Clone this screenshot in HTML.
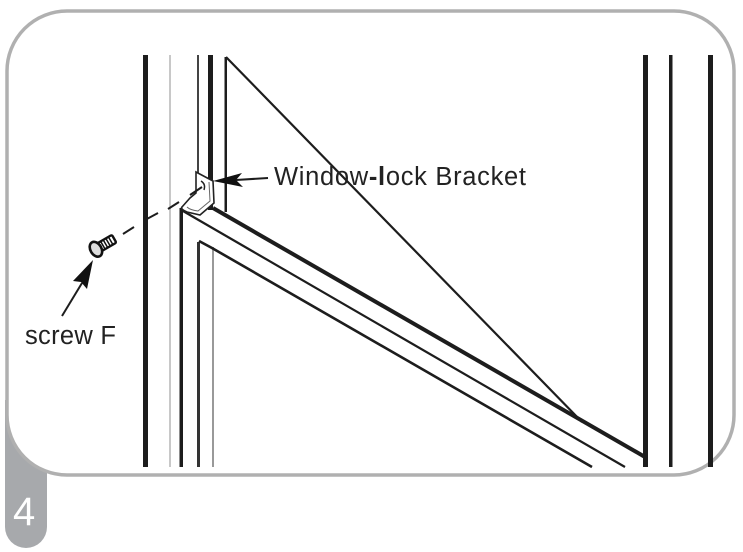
<!DOCTYPE html>
<html><head><meta charset="utf-8"><style>
html,body{margin:0;padding:0;background:#fff;width:743px;height:552px;overflow:hidden}
svg{display:block}
text{font-family:"Liberation Sans",sans-serif}
</style></head><body>
<svg width="743" height="552" viewBox="0 0 743 552" xmlns="http://www.w3.org/2000/svg">
<path d="M5 400H47V527A21 21 0 0 1 5 527Z" fill="#a7a9ac"/>
<rect x="7" y="11" width="727" height="464" rx="60" ry="60" fill="#fff" stroke="#b0b0b0" stroke-width="3.5"/>
<text x="13" y="525" font-size="40" fill="#fff">4</text>
<g fill="#1d1d1d">
<rect x="143" y="55" width="5" height="412"/>
<rect x="169" y="55" width="2" height="412" fill="#c8c8c8"/>
<rect x="197" y="55" width="2" height="118" fill="#444"/>
<rect x="208" y="55" width="5" height="155"/>
<rect x="224.500" y="57" width="2.500" height="155"/>
<rect x="179.500" y="208" width="3.500" height="259"/>
<rect x="197" y="242" width="3" height="225" fill="#333"/>
<rect x="212" y="247" width="2" height="220" fill="#999"/>
<rect x="643" y="55" width="5" height="412"/>
<rect x="669" y="55" width="3.500" height="412"/>
<rect x="708" y="55" width="5" height="412"/>
</g>
<g fill="none" stroke="#1d1d1d">
<path d="M226 57L582 422" stroke-width="2.200"/>
<path d="M213 208L645 457" stroke-width="4"/>
<path d="M183 211L625 467" stroke-width="2.200"/>
<path d="M199 241L212 248L592 467" stroke-width="2.600"/>
</g>
<path d="M196 172L213 181L214 203L200 215L187 212Q180 209 182 207L190 198L196 193Z" fill="#fff" stroke="#222" stroke-width="1.600"/>
<path d="M209 182L210 201L198 211Q190 210 187 207" fill="none" stroke="#666" stroke-width="1"/>
<path d="M201 181Q206 184 204 190" fill="none" stroke="#222" stroke-width="1.400"/>
<g stroke="#1d1d1d" stroke-width="2" fill="none">
<path d="M123 234L134 227M145 220L158 213M168 209L179 202M190 195L202 187"/>
<path d="M236 180L268 178"/>
<path d="M82 283L62 316"/>
</g>
<path d="M213 181L242 173L236 180L243 187Z" fill="#111"/>
<path d="M93 260L73 281L81 282L87 289Z" fill="#111"/>
<g transform="rotate(-30 95.500 249.500)">
<rect x="100" y="245" width="17" height="9" rx="1.500" fill="#fff" stroke="#111" stroke-width="2.400"/>
<path d="M104 245V254M107 245V254M110 245V254M113 245V254" stroke="#111" stroke-width="1.500"/>
<ellipse cx="96" cy="249.500" rx="5.500" ry="8" fill="#ddd" stroke="#111" stroke-width="2.600"/>
</g>
<text x="274" y="185" font-size="25.500" fill="#222" textLength="252" lengthAdjust="spacing">Window<tspan font-weight="bold">-l</tspan>ock Bracket</text>
<text x="25" y="344" font-size="25.500" fill="#222" textLength="91" lengthAdjust="spacing">screw F</text>
</svg>
</body></html>
